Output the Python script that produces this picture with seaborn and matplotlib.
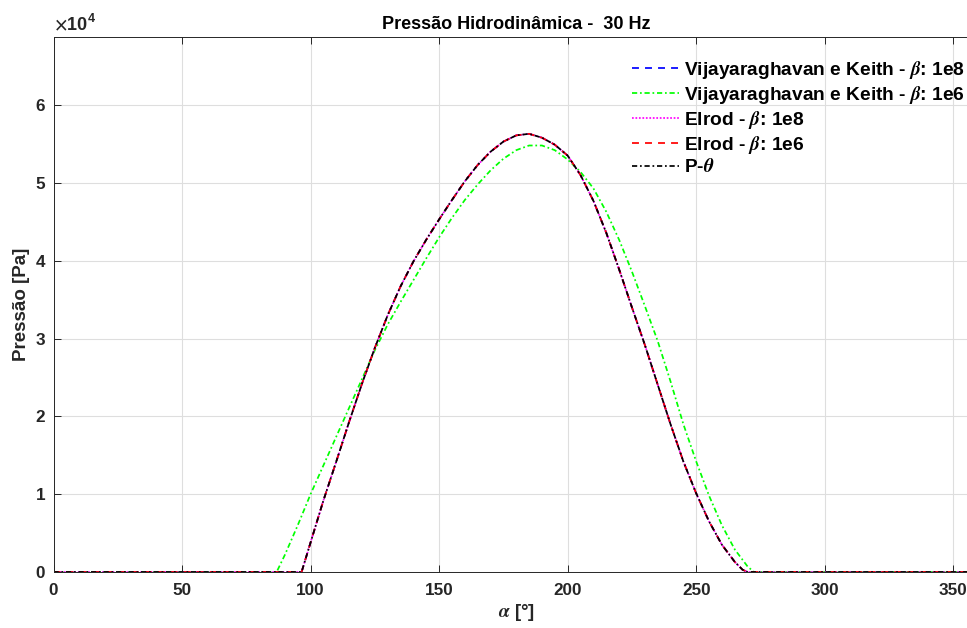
import numpy as np
import pandas as pd
import matplotlib
matplotlib.use("Agg")
import matplotlib.pyplot as plt
from matplotlib.ticker import FixedLocator, FuncFormatter
import seaborn as sns

# Angular position [deg] and hydrodynamic pressure [Pa] of the converged solutions
alpha_conv = [0, 96.5, 100, 105, 110, 115, 120, 125, 130, 135, 140, 145, 150,
              155, 160, 165, 170, 175, 180, 185, 190, 195, 200, 205, 210, 215,
              220, 225, 230, 235, 240, 245, 250, 255, 260, 265, 268, 270, 360]
p_conv = [0, 0, 3800, 9200, 14200, 19300, 24200, 28800, 33000, 36700, 39900,
          42700, 45300, 47800, 50200, 52300, 54000, 55300, 56100, 56300, 55800,
          54900, 53500, 51000, 47700, 43600, 38900, 34000, 29200, 24100, 19000,
          14200, 10100, 6500, 3500, 1300, 300, 0, 0]

# Vijayaraghavan e Keith with beta = 1e6
alpha_vk6 = [0, 86.8, 90, 95, 100, 105, 110, 115, 120, 125, 130, 135, 140, 145,
             150, 155, 160, 165, 170, 175, 180, 185, 190, 195, 200, 205, 210,
             215, 220, 225, 230, 235, 240, 245, 250, 255, 260, 265, 270, 272.5, 360]
p_vk6 = [0, 0, 2200, 6000, 10000, 13700, 17400, 21100, 24800, 28500, 31800,
         34700, 37500, 40300, 43000, 45500, 47800, 49800, 51600, 53100, 54200,
         54800, 54800, 54200, 53000, 51400, 49300, 46300, 42700, 38600, 34200,
         29700, 24500, 19000, 14200, 9800, 6000, 2900, 700, 0, 0]

series = [
    ("Vijayaraghavan e Keith - $\\beta$: 1e8", alpha_conv, p_conv, "#0000ff", (0, (4, 3.5))),
    ("Vijayaraghavan e Keith - $\\beta$: 1e6", alpha_vk6, p_vk6, "#00ff00", (0, (3, 1.6, 1, 1.6))),
    ("Elrod - $\\beta$: 1e8", alpha_conv, p_conv, "#ff00ff", (0, (1, 1))),
    ("Elrod - $\\beta$: 1e6", alpha_conv, p_conv, "#ff0000", (0, (4, 3.5))),
    ("P-$\\theta$", alpha_conv, p_conv, "#000000", (0, (3, 1.6, 1, 1.6))),
]

x_ticks = [0, 50, 100, 150, 200, 250, 300, 350]
y_ticks = [0, 10000, 20000, 30000, 40000, 50000, 60000]

sns.set_theme(style="whitegrid")
plt.rcParams["font.family"] = ["Liberation Sans", "DejaVu Sans"]
plt.rcParams["mathtext.fontset"] = "stix"
plt.rcParams["font.weight"] = "bold"

W, H = 967, 628
fig = plt.figure(figsize=(W / 100, H / 100), dpi=100)
fig.patch.set_facecolor("white")
x0, x1 = 53.5, 979.0
y0, y1 = 37.0, 572.0
ax = fig.add_axes([x0 / W, 1 - y1 / H, (x1 - x0) / W, (y1 - y0) / H])
ax.set_facecolor("white")

for label, xs, ys, col, ls in series:
    df = pd.DataFrame({"alpha": xs, "p": ys})
    sns.lineplot(data=df, x="alpha", y="p", ax=ax, color=col, linestyle=ls,
                 linewidth=1.25, label=label, sort=False, estimator=None)

ax.set_xlim(0, 360)
ax.set_ylim(0, 68740)
ax.xaxis.set_major_locator(FixedLocator(x_ticks))
ax.yaxis.set_major_locator(FixedLocator(y_ticks))
ax.yaxis.set_major_formatter(FuncFormatter(lambda v, _: f"{v / 1e4:g}"))

ax.grid(True, color="#dedede", linewidth=0.8)
for s in ax.spines.values():
    s.set_visible(True)
    s.set_color("#262626")
    s.set_linewidth(0.7)

ax.tick_params(axis="both", which="major", direction="in", length=5, width=0.7,
               color="#262626", labelcolor="#262626", labelsize=12.3,
               top=True, right=True, bottom=True, left=True)
ax.tick_params(axis="x", pad=8)
ax.tick_params(axis="y", pad=6)
for t in ax.get_xticklabels() + ax.get_yticklabels():
    t.set_fontweight("bold")

ax.set_xlabel("$\\alpha$ [°]", fontsize=13.5, fontweight="bold", color="#262626", labelpad=3)
ax.set_ylabel("Pressão [Pa]", fontsize=13.5, fontweight="bold", color="#262626", labelpad=4)
ax.set_title("Pressão Hidrodinâmica -  30 Hz", fontsize=13, fontweight="bold",
             color="black", pad=6)

ax.text(0.0, 1.004, "$\\times$" + "10", transform=ax.transAxes, fontsize=13,
        fontweight="bold", color="#262626", va="bottom", ha="left")
ax.text(0.0365, 1.022, "4", transform=ax.transAxes, fontsize=9,
        fontweight="bold", color="#262626", va="bottom", ha="left")

leg = ax.legend(loc="upper right", bbox_to_anchor=(965 / W, 1 - 59 / H),
                bbox_transform=fig.transFigure, frameon=False, fontsize=13.8,
                handlelength=2.45, handletextpad=0.26, labelspacing=0.15,
                borderaxespad=0, borderpad=0)
for t in leg.get_texts():
    t.set_fontweight("bold")
    t.set_color("black")

fig.savefig("out.png", dpi=100, facecolor="white")
